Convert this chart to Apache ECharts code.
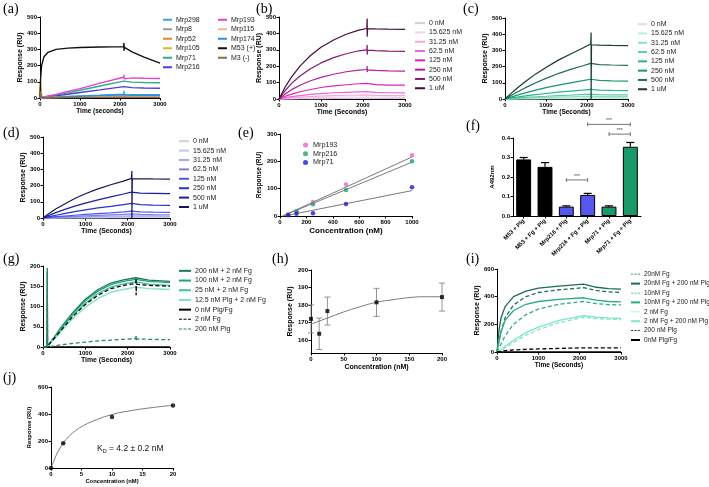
<!DOCTYPE html>
<html>
<head>
<meta charset="utf-8">
<script src="https://cdn.jsdelivr.net/npm/echarts@6/dist/echarts.min.js"></script>
<style>
html, body { margin: 0; padding: 0; background: #fff; }
.panel { position: absolute; left: 0; top: 0; width: 709px; height: 487px; }
</style>
</head>
<body>
<div id="pa" class="panel"></div>
<div id="pb" class="panel"></div>
<div id="pc" class="panel"></div>
<div id="pd" class="panel"></div>
<div id="pe" class="panel"></div>
<div id="pf" class="panel"></div>
<div id="pg" class="panel"></div>
<div id="ph" class="panel"></div>
<div id="pi" class="panel"></div>
<div id="pj" class="panel"></div>
<script>
// ---- (a) screening sensorgrams ----
var TIME_A = [0, 15, 40, 100, 200, 400, 700, 1000, 1500, 2090, 2100, 2100, 2110, 2300, 2600, 3000];
var NAMES_A = ['Mrp298', 'Mrp8', 'Mrp52', 'Mrp105', 'Mrp71', 'Mrp216', 'Mrp193', 'Mrp115', 'Mrp174', 'M53 (+)', 'M3 (-)'];
var COLORS_A = ['#3aa3d6', '#9a9a9a', '#e8832a', '#c9c21e', '#2bb083', '#4b3fdc', '#e245cc', '#f2b98e', '#2f8fe0', '#111111', '#8b6a48'];
var A_MRP298 = [0, 4, 3, 3, 4, 6, 9, 12, 17, 24, 45, 8, 22, 21, 20, 20];
var A_MRP8 = [0, 2, 2, 2, 3, 4, 5, 6, 8, 10, 10, 10, 9, 9, 9, 9];
var A_MRP52 = [0, 95, 8, 3, 3, 3, 4, 5, 6, 8, 8, 8, 7, 7, 6, 6];
var A_MRP105 = [0, 70, 10, 4, 4, 5, 7, 9, 12, 16, 16, 16, 15, 14, 14, 13];
var A_MRP71 = [0, 6, 5, 6, 10, 18, 32, 48, 74, 104, 112, 96, 100, 98, 96, 94];
var A_MRP216 = [0, 5, 4, 5, 7, 13, 23, 34, 50, 70, 76, 64, 66, 64, 62, 60];
var A_MRP193 = [0, 8, 6, 7, 12, 22, 40, 58, 92, 128, 142, 118, 126, 124, 122, 120];
var A_MRP115 = [0, 3, 2, 3, 3, 5, 6, 8, 11, 14, 14, 14, 13, 12, 12, 12];
var A_MRP174 = [0, 3, 3, 3, 4, 5, 8, 11, 15, 20, 20, 20, 18, 17, 17, 16];
var A_M53 = [0, 120, 200, 255, 282, 300, 308, 312, 315, 317, 340, 292, 312, 285, 252, 215];
var A_M3 = [0, 40, 5, 2, 2, 2, 3, 3, 4, 5, 5, 5, 5, 4, 4, 4];

// ---- (b)(c)(d) concentration series ----
var TIME_BCD = [0, 150, 300, 500, 750, 1000, 1300, 1600, 1900, 2090, 2100, 2100, 2110, 2300, 2600, 3000];
var CONC_NAMES = ['0 nM', '15.625 nM', '31.25 nM', '62.5 nM', '125 nM', '250 nM', '500 nM', '1 uM'];
var COLORS_B = ['#d8ccd5', '#f6cdee', '#f2a6e4', '#ea68d4', '#dc22bc', '#b51e98', '#861a70', '#470b3a'];
var COLORS_C = ['#d3e6dd', '#baeed8', '#92dec2', '#5fcaa7', '#23b98b', '#1a9870', '#1f6c51', '#163a2d'];
var COLORS_D = ['#cfd0e0', '#c2c6f2', '#a0a6f2', '#7a80f0', '#4f57e8', '#2a30d6', '#1a1e9e', '#141850'];

var B_0 = [0, 1, 1, 2, 2, 2, 3, 3, 3, 4, 4, 4, 3, 3, 3, 3];
var B_15 = [0, 2, 4, 6, 7, 9, 10, 11, 12, 12, 14, 10, 12, 11, 10, 10];
var B_31 = [0, 4, 8, 12, 15, 18, 21, 23, 24, 25, 28, 22, 24, 22, 21, 20];
var B_62 = [0, 8, 14, 21, 28, 33, 38, 41, 44, 45, 50, 40, 43, 40, 38, 37];
var B_125 = [0, 17, 30, 44, 58, 70, 80, 87, 93, 95, 105, 85, 92, 88, 85, 84];
var B_250 = [0, 31, 57, 84, 111, 132, 151, 166, 176, 180, 200, 165, 178, 175, 172, 170];
var B_500 = [0, 52, 95, 140, 185, 220, 252, 276, 294, 300, 330, 270, 298, 295, 292, 290];
var B_1000 = [0, 75, 135, 200, 265, 315, 360, 395, 420, 430, 490, 380, 428, 427, 426, 425];

var C_0 = [0, 0, 1, 1, 1, 2, 2, 2, 3, 3, 3, 3, 3, 3, 3, 3];
var C_15 = [0, 1, 2, 3, 4, 5, 6, 7, 8, 9, 9, 9, 8, 8, 8, 8];
var C_31 = [0, 2, 4, 6, 8, 10, 12, 14, 16, 18, 18, 18, 17, 16, 15, 15];
var C_62 = [0, 3, 6, 10, 14, 17, 21, 24, 28, 30, 30, 30, 28, 27, 26, 25];
var C_125 = [0, 6, 12, 19, 27, 34, 42, 49, 55, 60, 61, 59, 57, 55, 53, 52];
var C_250 = [0, 12, 24, 38, 55, 70, 86, 100, 113, 122, 124, 120, 118, 115, 112, 110];
var C_500 = [0, 22, 43, 70, 100, 127, 157, 183, 205, 220, 222, 218, 215, 212, 210, 208];
var C_1000 = [0, 35, 68, 108, 155, 195, 240, 278, 315, 340, 410, 0, 335, 333, 331, 330];

var D_0 = [0, 0, 0, 1, 1, 1, 1, 2, 2, 3, 3, 3, 3, 3, 3, 3];
var D_15 = [0, 1, 1, 2, 3, 4, 5, 6, 7, 8, 8, 8, 8, 8, 7, 7];
var D_31 = [0, 1, 3, 4, 6, 7, 9, 11, 12, 14, 14, 14, 14, 13, 13, 12];
var D_62 = [0, 2, 5, 7, 10, 13, 16, 19, 22, 25, 25, 25, 24, 22, 21, 20];
var D_125 = [0, 4, 8, 12, 17, 22, 27, 32, 38, 42, 42, 42, 40, 38, 36, 35];
var D_250 = [0, 9, 17, 27, 39, 50, 62, 72, 83, 90, 91, 89, 86, 83, 80, 78];
var D_500 = [0, 18, 33, 52, 73, 92, 112, 130, 148, 160, 162, 158, 156, 154, 152, 150];
var D_1000 = [0, 30, 55, 85, 120, 150, 180, 205, 228, 245, 290, 0, 243, 242, 241, 240];

// ---- (e) dose response ----
var CONC_E = [62.5, 125, 250, 500, 1000];
var E_MRP193 = [6, 17, 51, 115, 222];
var E_MRP216 = [5, 17, 43, 95, 200];
var E_MRP71 = [3, 8, 10, 44, 105];
var FIT_X_E = [20, 1000];
var FIT_E_193 = [0, 216];
var FIT_E_216 = [0, 197];
var FIT_X_E71 = [30, 1000];
var FIT_E_71 = [0, 93];

// ---- (f) ELISA bars ----
var CATS_F = ['M53 + Plg', 'M53 + Fg + Plg', 'Mrp216 + Plg', 'Mrp216 + Fg + Plg', 'Mrp71 + Plg', 'Mrp71 + Fg + Plg'];
var VALUES_F = [0.29, 0.252, 0.048, 0.108, 0.048, 0.355];
var ERR_F = [0.01, 0.022, 0.004, 0.008, 0.004, 0.022];
var COLORS_F = ['#000000', '#000000', '#5557ee', '#5557ee', '#1a9a68', '#1a9a68'];
var BRACKETS_F = [[2, 3, 0.185], [3, 5, 0.47], [4, 5, 0.42]];

// ---- (g) Plg titration with 2 nM Fg ----
var TIME_G = [0, 90, 100, 100, 110, 400, 700, 1000, 1300, 1600, 1900, 2190, 2200, 2200, 2210, 2500, 3000];
var NAMES_G = ['200 nM + 2 nM Fg', '100 nM + 2 nM Fg', '25 nM + 2 nM Fg', '12.5 nM Plg + 2 nM Fg', '0 nM Plg/Fg', '2 nM Fg', '200 nM Plg'];
var COLORS_G = ['#1c7a57', '#27a077', '#3dc492', '#80e4c2', '#000000', '#000000', '#2a8a62'];
var DASH_G = [false, false, false, false, false, true, true];
var G_200 = [0, 0, 0, 195, 0, 45, 85, 118, 142, 158, 166, 171, 171, 171, 168, 165, 162];
var G_100 = [0, 0, 0, 0, 0, 43, 82, 114, 138, 154, 162, 167, 167, 167, 164, 162, 159];
var G_25 = [0, 0, 0, 0, 0, 40, 78, 108, 132, 148, 156, 161, 161, 161, 158, 155, 152];
var G_12 = [0, 0, 0, 0, 0, 35, 70, 98, 120, 135, 142, 148, 148, 148, 146, 144, 142];
var G_NONE = [0, 0, 0, 0, 0, 0, 0, 0, 0, 0, 0, 0, 0, 0, 0, 0, 0];
var G_FG = [0, 0, 0, 0, 0, 38, 75, 105, 128, 144, 152, 157, 170, 128, 155, 152, 150];
var G_PLG = [0, 0, 0, 185, 0, 5, 9, 12, 15, 17, 19, 21, 30, 14, 20, 19, 18];

// ---- (h) steady state vs Plg ----
var CONC_H = [0, 12.5, 25, 100, 200];
var RESP_H = [172, 163.5, 176.5, 181.5, 184.5];
var ERR_H = [8, 9, 8, 8, 8];
var FIT_X_H = [0, 25, 50, 75, 100, 125, 150, 175, 200];
var FIT_H = [169, 172.5, 176, 179, 181.5, 183, 184.2, 184.7, 184.7];
var TICKS_H = [160, 170, 180, 190, 200];

// ---- (i) Fg titration with and without Plg ----
var TIME_I = [0, 50, 100, 200, 400, 700, 1000, 1500, 2100, 2400, 2700, 3000];
var NAMES_I = ['20nM Fg', '20nM Fg + 200 nM Plg', '10nM Fg', '10nM Fg + 200 nM Plg', '2 nM Fg', '2 nM Fg + 200 nM Plg', '200 nM Plg', '0nM Plg/Fg'];
var COLORS_I = ['#1b6e50', '#1b6e50', '#2cae7c', '#2cae7c', '#80e6c4', '#80e6c4', '#000000', '#000000'];
var DASH_I = [true, false, true, false, true, false, true, false];
var I_20 = [0, 80, 150, 250, 340, 400, 430, 450, 465, 445, 435, 430];
var I_20P = [0, 160, 250, 330, 400, 440, 462, 476, 490, 468, 458, 455];
var I_10 = [0, 30, 60, 120, 200, 270, 310, 345, 365, 350, 343, 340];
var I_10P = [0, 80, 150, 230, 300, 345, 365, 380, 392, 375, 365, 362];
var I_2 = [0, 6, 12, 32, 70, 122, 162, 212, 250, 242, 237, 233];
var I_2P = [0, 8, 18, 42, 85, 140, 180, 228, 262, 252, 246, 242];
var I_PLG = [0, 3, 5, 10, 15, 19, 22, 26, 30, 30, 30, 30];
var I_NONE = [0, 0, 0, 0, 0, 0, 0, 0, 0, 0, 0, 0];

// ---- (j) affinity fit ----
var CONC_J = [0, 2, 10, 20];
var RESP_J = [0, 183, 378, 463];
var FIT_X_J = [0, 0.5, 1, 2, 3, 4, 5, 7, 10, 13, 16, 20];
var FIT_J = [0, 56, 108, 183, 236, 276, 306, 349, 396, 424, 444, 465];

var FONT = 'Liberation Sans';
var DASH_ICON = 'path://M0,0h3v1h-3zM4.5,0h3v1h-3zM9,0h3v1h-3z';

function zip(xs, ys) {
  return ys.map(function (y, i) { return [xs[i], y]; });
}

function plain(v) { return String(v); }

function axis(o, nameSize) {
  var base = {
    nameLocation: 'middle',
    nameTextStyle: { fontFamily: FONT, fontSize: nameSize || 7, fontWeight: 'bold', color: '#000' },
    axisLine: { show: true, onZero: false, lineStyle: { color: '#000', width: 1 } },
    axisTick: { show: true, length: 2.5, lineStyle: { color: '#000' } },
    axisLabel: { fontFamily: FONT, fontSize: 6, fontWeight: 'bold', color: '#000', margin: 3, formatter: plain },
    splitLine: { show: false }
  };
  for (var k in o) base[k] = o[k];
  return base;
}

function panelTitle(text, left, top) {
  return {
    text: text, left: left, top: top, padding: 0,
    textStyle: { fontFamily: 'Liberation Serif', fontSize: 14, fontWeight: 'normal', color: '#000' }
  };
}

function legendBox(names, left, top, o, dash) {
  o = o || {};
  return {
    orient: 'vertical', left: left, top: top, padding: 0,
    itemWidth: o.w || 10, itemHeight: 2, itemGap: 0,
    selectedMode: false,
    textStyle: { fontFamily: FONT, fontSize: o.size || 7, color: '#222', lineHeight: o.lh || 9.3, padding: [0, 0, 0, -1] },
    data: names.map(function (n, i) {
      return { name: n, icon: dash && dash[i] ? DASH_ICON : 'rect' };
    })
  };
}

function curves(names, colors, times, values, dash, width) {
  return names.map(function (n, i) {
    return {
      name: n, type: 'line', symbol: 'none', clip: false,
      data: zip(times, values[i]),
      lineStyle: { color: colors[i], width: width || 1.2, type: dash && dash[i] ? [4, 2.5] : 'solid' },
      itemStyle: { color: colors[i] }
    };
  });
}

function init(id) {
  return echarts.init(document.getElementById(id), null, { renderer: 'canvas' });
}

function sensorChart(id, o) {
  var chart = init(id);
  chart.setOption({
    animation: false,
    title: panelTitle(o.label, o.labelPos[0], o.labelPos[1]),
    grid: { left: o.grid[0], top: o.grid[1], width: o.grid[2], height: o.grid[3], outerBoundsMode: 'none' },
    legend: o.legend,
    xAxis: axis({ type: 'value', min: 0, max: 3000, interval: 1000, name: o.xName, nameGap: o.xGap || 10 }, o.xSize),
    yAxis: axis({ type: 'value', min: 0, max: o.yMax, interval: o.yStep, name: 'Response (RU)', nameGap: o.yGap || 16 }, o.ySize),
    series: o.series
  });
}

// (a)
var seriesA = curves(NAMES_A, COLORS_A, TIME_A,
  [A_MRP298, A_MRP8, A_MRP52, A_MRP105, A_MRP71, A_MRP216, A_MRP193, A_MRP115, A_MRP174, A_M53, A_M3], null, 1.4);
var chartA = init('pa');
chartA.setOption({
  animation: false,
  title: panelTitle('(a)', 3, 2),
  grid: { left: 40, top: 17, width: 120, height: 81, outerBoundsMode: 'none' },
  legend: [
    legendBox(NAMES_A.slice(0, 6), 163, 15, { w: 9, lh: 9.5 }),
    legendBox(NAMES_A.slice(6), 218, 15, { w: 9, lh: 9.5 })
  ],
  xAxis: axis({ type: 'value', min: 0, max: 3000, interval: 1000, name: 'Time (seconds)', nameGap: 10 }, 6.5),
  yAxis: axis({ type: 'value', min: 0, max: 500, interval: 100, name: 'Response (RU)', nameGap: 15 }, 7),
  series: seriesA
});

// (b)
sensorChart('pb', {
  label: '(b)', labelPos: [256, 2], grid: [279, 17, 126, 82], yMax: 500, yStep: 100,
  xName: 'Time (Seconds)', xSize: 6.8, ySize: 7,
  legend: legendBox(CONC_NAMES, 415, 18.5, { w: 10 }),
  series: curves(CONC_NAMES, COLORS_B, TIME_BCD, [B_0, B_15, B_31, B_62, B_125, B_250, B_500, B_1000])
});

// (c)
sensorChart('pc', {
  label: '(c)', labelPos: [463, 2], grid: [505, 18, 123, 81], yMax: 500, yStep: 100,
  xName: 'Time (Seconds)', xSize: 6.5, ySize: 7,
  legend: legendBox(CONC_NAMES, 638, 19.5, { w: 9 }),
  series: curves(CONC_NAMES, COLORS_C, TIME_BCD, [C_0, C_15, C_31, C_62, C_125, C_250, C_500, C_1000])
});

// (d)
sensorChart('pd', {
  label: '(d)', labelPos: [3, 126], grid: [43, 137, 127, 81], yMax: 500, yStep: 100,
  xName: 'Time (Seconds)', xSize: 6.8, ySize: 7,
  legend: legendBox(CONC_NAMES, 179, 136.5, { w: 10, lh: 9.4 }),
  series: curves(CONC_NAMES, COLORS_D, TIME_BCD, [D_0, D_15, D_31, D_62, D_125, D_250, D_500, D_1000])
});

// (e)
var chartE = init('pe');
var E_NAMES = ['Mrp193', 'Mrp216', 'Mrp71'];
var E_COLORS = ['#e964cb', '#21a072', '#1c1cd2'];
var E_VALUES = [E_MRP193, E_MRP216, E_MRP71];
var seriesE = E_NAMES.map(function (n, i) {
  return { name: n, type: 'scatter', symbol: 'circle', symbolSize: 4.5, z: 3,
    itemStyle: { color: E_COLORS[i] }, data: zip(CONC_E, E_VALUES[i]) };
});
[[FIT_X_E, FIT_E_193], [FIT_X_E, FIT_E_216], [FIT_X_E71, FIT_E_71]].forEach(function (f) {
  seriesE.push({ type: 'line', symbol: 'none', z: 2, lineStyle: { color: '#7a7a7a', width: 1 }, data: zip(f[0], f[1]) });
});
chartE.setOption({
  animation: false,
  title: panelTitle('(e)', 238, 126),
  grid: { left: 280, top: 134, width: 132, height: 82, outerBoundsMode: 'none' },
  legend: {
    orient: 'vertical', left: 303, top: 140.5, padding: 0, icon: 'circle',
    itemWidth: 5, itemHeight: 5, itemGap: 0, selectedMode: false,
    textStyle: { fontFamily: FONT, fontSize: 7.2, color: '#222', lineHeight: 8.8 },
    data: E_NAMES
  },
  xAxis: axis({ type: 'value', min: 0, max: 1000, interval: 200, name: 'Concentration (nM)', nameGap: 11 }, 8),
  yAxis: axis({ type: 'value', min: 0, max: 300, interval: 100, name: 'Response (RU)', nameGap: 16 }, 6.5),
  series: seriesE
});

// (f)
var chartF = init('pf');
chartF.setOption({
  animation: false,
  title: panelTitle('(f)', 466, 119),
  grid: { left: 513, top: 138, width: 128, height: 78, outerBoundsMode: 'none' },
  xAxis: axis({
    type: 'category', data: CATS_F,
    axisTick: { show: true, length: 2.5, alignWithLabel: true, lineStyle: { color: '#000' } },
    axisLabel: { fontFamily: FONT, fontSize: 5.8, fontWeight: 'bold', color: '#000', margin: 4, rotate: 45, interval: 0 }
  }),
  yAxis: axis({
    type: 'value', min: 0, max: 0.4, interval: 0.1, name: 'A492nm', nameGap: 18,
    axisLabel: { fontFamily: FONT, fontSize: 6, fontWeight: 'bold', color: '#000', margin: 3,
      formatter: function (v) { return v.toFixed(1); } }
  }, 6),
  series: [
    {
      type: 'bar', barWidth: '70%',
      data: VALUES_F.map(function (v, i) {
        return { value: v, itemStyle: { color: COLORS_F[i], borderColor: '#000', borderWidth: 1 } };
      })
    },
    {
      type: 'custom', clip: false, z: 5,
      encode: { x: 0, y: 1 },
      data: VALUES_F.map(function (v, i) { return [i, v, ERR_F[i]]; }),
      renderItem: function (params, api) {
        var lo = api.coord([api.value(0), api.value(1)]);
        var hi = api.coord([api.value(0), api.value(1) + api.value(2)]);
        return { type: 'group', children: [
          { type: 'line', shape: { x1: lo[0], y1: lo[1], x2: hi[0], y2: hi[1] }, style: { stroke: '#000', lineWidth: 1.2 } },
          { type: 'line', shape: { x1: hi[0] - 4, y1: hi[1], x2: hi[0] + 4, y2: hi[1] }, style: { stroke: '#000', lineWidth: 1.2 } }
        ] };
      }
    },
    {
      type: 'custom', clip: false, z: 5,
      encode: { x: [0, 1], y: 2 },
      data: BRACKETS_F,
      renderItem: function (params, api) {
        var p1 = api.coord([api.value(0), api.value(2)]);
        var p2 = api.coord([api.value(1), api.value(2)]);
        var st = { stroke: '#666', lineWidth: 0.9 };
        return { type: 'group', children: [
          { type: 'line', shape: { x1: p1[0], y1: p1[1], x2: p2[0], y2: p2[1] }, style: st },
          { type: 'line', shape: { x1: p1[0], y1: p1[1] - 2, x2: p1[0], y2: p1[1] + 2 }, style: st },
          { type: 'line', shape: { x1: p2[0], y1: p2[1] - 2, x2: p2[0], y2: p2[1] + 2 }, style: st },
          { type: 'text', x: (p1[0] + p2[0]) / 2, y: p1[1] - 1,
            style: { text: '***', align: 'center', verticalAlign: 'bottom', fontSize: 5, fontFamily: FONT, fill: '#444' } }
        ] };
      }
    }
  ]
});

// (g)
sensorChart('pg', {
  label: '(g)', labelPos: [3, 252], grid: [43, 266, 127, 81], yMax: 200, yStep: 50,
  xName: 'Time (Seconds)', xSize: 6.9, ySize: 7,
  legend: legendBox(NAMES_G, 179, 266, { w: 12, lh: 9.7 }, DASH_G),
  series: curves(NAMES_G, COLORS_G, TIME_G, [G_200, G_100, G_25, G_12, G_NONE, G_FG, G_PLG], DASH_G, 1.3)
});

// (h)
var chartH = init('ph');
chartH.setOption({
  animation: false,
  title: panelTitle('(h)', 272, 252),
  grid: { left: 311, top: 270, width: 131, height: 83, outerBoundsMode: 'none' },
  xAxis: axis({ type: 'value', min: 0, max: 200, interval: 50, name: 'Concentration (nM)', nameGap: 11 }, 7),
  yAxis: axis({
    type: 'value', min: 152.5, max: 200, name: 'Response (RU)', nameGap: 17,
    axisTick: { show: true, length: 2.5, lineStyle: { color: '#000' }, customValues: TICKS_H },
    axisLabel: { fontFamily: FONT, fontSize: 6, fontWeight: 'bold', color: '#000', margin: 3, customValues: TICKS_H, formatter: plain }
  }, 7),
  series: [
    { type: 'line', symbol: 'none', smooth: true, clip: false, lineStyle: { color: '#777', width: 1 }, data: zip(FIT_X_H, FIT_H) },
    {
      type: 'custom', clip: false, z: 3,
      encode: { x: 0, y: 1 },
      data: CONC_H.map(function (c, i) { return [c, RESP_H[i], ERR_H[i]]; }),
      renderItem: function (params, api) {
        var lo = api.coord([api.value(0), api.value(1) - api.value(2)]);
        var hi = api.coord([api.value(0), api.value(1) + api.value(2)]);
        var st = { stroke: '#888', lineWidth: 0.9 };
        return { type: 'group', children: [
          { type: 'line', shape: { x1: lo[0], y1: lo[1], x2: hi[0], y2: hi[1] }, style: st },
          { type: 'line', shape: { x1: lo[0] - 3, y1: lo[1], x2: lo[0] + 3, y2: lo[1] }, style: st },
          { type: 'line', shape: { x1: hi[0] - 3, y1: hi[1], x2: hi[0] + 3, y2: hi[1] }, style: st }
        ] };
      }
    },
    { type: 'scatter', symbol: 'rect', symbolSize: 4, z: 4, clip: false, itemStyle: { color: '#000' }, data: zip(CONC_H, RESP_H) }
  ]
});

// (i)
sensorChart('pi', {
  label: '(i)', labelPos: [466, 252], grid: [497, 269, 124, 83], yMax: 600, yStep: 200,
  xName: 'Time (Seconds)', xSize: 6.5, ySize: 7,
  legend: legendBox(NAMES_I, 631, 269.5, { w: 9, lh: 9.4, size: 6.5 }, DASH_I),
  series: curves(NAMES_I, COLORS_I, TIME_I, [I_20, I_20P, I_10, I_10P, I_2, I_2P, I_PLG, I_NONE], DASH_I, 1.3)
});

// (j)
var chartJ = init('pj');
chartJ.setOption({
  animation: false,
  title: panelTitle('(j)', 3, 371),
  grid: { left: 51, top: 387, width: 122, height: 81, outerBoundsMode: 'none' },
  xAxis: axis({ type: 'value', min: 0, max: 20, interval: 5, name: 'Concentration (nM)', nameGap: 10 }, 5.8),
  yAxis: axis({ type: 'value', min: 0, max: 600, interval: 200, name: 'Response (RU)', nameGap: 19 }, 5.8),
  graphic: [{
    type: 'text', left: 97, top: 444,
    style: {
      text: '{a|K}{b|D}{a| = 4.2 \u00b1 0.2 nM}',
      rich: {
        a: { fontFamily: FONT, fontSize: 8.5, fill: '#111' },
        b: { fontFamily: FONT, fontSize: 5.5, fill: '#111', padding: [5, 0, 0, 0] }
      }
    }
  }],
  series: [
    { type: 'line', symbol: 'none', smooth: true, clip: false, lineStyle: { color: '#777', width: 1 }, data: zip(FIT_X_J, FIT_J) },
    { type: 'scatter', symbol: 'circle', symbolSize: 4.5, z: 4, clip: false, itemStyle: { color: '#000' }, data: zip(CONC_J, RESP_J) }
  ]
});
</script>
</body>
</html>
